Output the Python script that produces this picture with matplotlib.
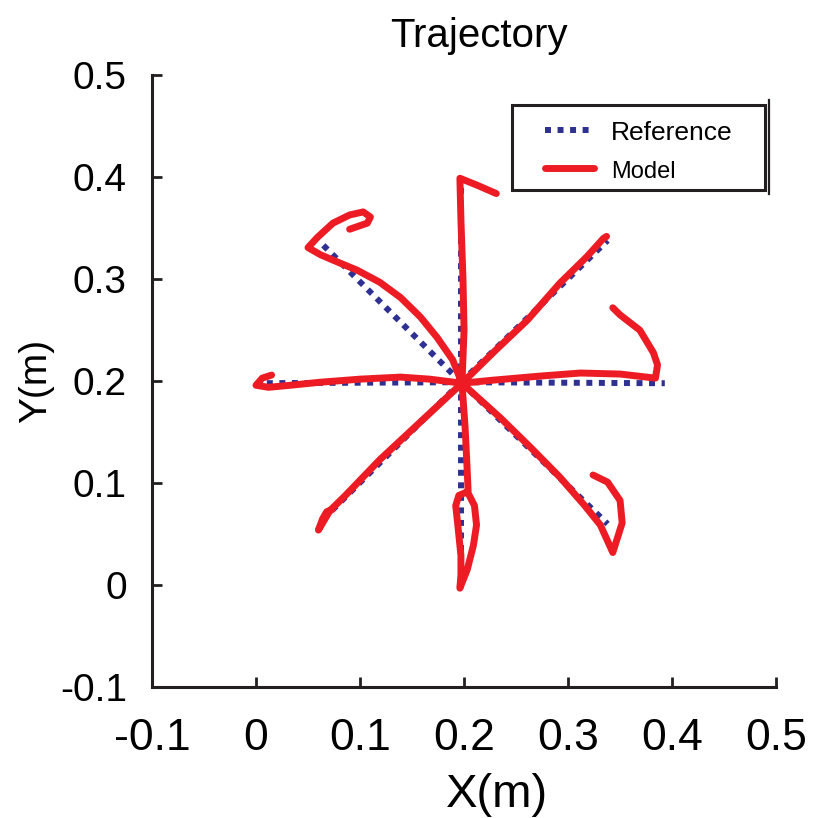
import matplotlib
matplotlib.use("Agg")
import matplotlib.pyplot as plt
from matplotlib.patches import Rectangle

plt.rcParams['font.family'] = ['Liberation Sans', 'DejaVu Sans']

RED = '#ED1C24'
NAVY = '#2E3192'
INK = '#231F20'

# reference: straight segments from the centre to 8 targets
ref_center = (0.197, 0.199)
ref_end_x = [0.197, 0.338, 0.393, 0.338, 0.197, 0.061, 0.002, 0.060]
ref_end_y = [0.399, 0.338, 0.198, 0.060, 0.000, 0.061, 0.198, 0.338]

# model trajectories, one list per arm
up_x = [0.198, 0.200, 0.199, 0.197, 0.196, 0.213, 0.231]
up_y = [0.198, 0.250, 0.299, 0.358, 0.399, 0.392, 0.384]

ur_x = [0.198, 0.230, 0.261, 0.292, 0.318, 0.334, 0.337]
ur_y = [0.198, 0.230, 0.260, 0.296, 0.322, 0.340, 0.342]

r_x = [0.198, 0.228, 0.273, 0.312, 0.350, 0.384, 0.386, 0.382, 0.369, 0.350, 0.343]
r_y = [0.198, 0.201, 0.205, 0.208, 0.207, 0.203, 0.216, 0.228, 0.250, 0.265, 0.272]

lr_x = [0.198, 0.235, 0.264, 0.292, 0.316, 0.331, 0.343, 0.352, 0.350, 0.338, 0.324]
lr_y = [0.198, 0.164, 0.135, 0.106, 0.078, 0.059, 0.032, 0.061, 0.083, 0.101, 0.108]

d_x = [0.198, 0.201, 0.203, 0.204, 0.210, 0.212, 0.209, 0.203, 0.196, 0.197, 0.197,
       0.194, 0.192, 0.195, 0.202]
d_y = [0.198, 0.155, 0.113, 0.090, 0.078, 0.059, 0.039, 0.015, -0.003, 0.010, 0.029,
       0.059, 0.078, 0.088, 0.091]

ll_x = [0.198, 0.158, 0.119, 0.086, 0.071, 0.060, 0.064, 0.068, 0.073]
ll_y = [0.198, 0.160, 0.123, 0.088, 0.073, 0.054, 0.065, 0.072, 0.074]

l_x = [0.198, 0.167, 0.139, 0.100, 0.062, 0.033, 0.012, 0.000, 0.006, 0.015]
l_y = [0.198, 0.202, 0.204, 0.202, 0.199, 0.196, 0.194, 0.196, 0.203, 0.206]

ul_x = [0.198, 0.189, 0.174, 0.158, 0.139, 0.119, 0.097, 0.078, 0.062, 0.050,
        0.059, 0.074, 0.090, 0.103, 0.110, 0.107, 0.090]
ul_y = [0.198, 0.221, 0.243, 0.263, 0.282, 0.297, 0.309, 0.317, 0.324, 0.331,
        0.341, 0.355, 0.363, 0.366, 0.361, 0.355, 0.349]

arms_x = [up_x, ur_x, r_x, lr_x, d_x, ll_x, l_x, ul_x]
arms_y = [up_y, ur_y, r_y, lr_y, d_y, ll_y, l_y, ul_y]

xticks = [-0.1, 0, 0.1, 0.2, 0.3, 0.4, 0.5]
yticks = [-0.1, 0, 0.1, 0.2, 0.3, 0.4, 0.5]
xtick_labels = ['-0.1', '0', '0.1', '0.2', '0.3', '0.4', '0.5']
ytick_labels = ['-0.1', '0', '0.1', '0.2', '0.3', '0.4', '0.5']

fig = plt.figure(figsize=(8.18, 8.18), dpi=100)
ax = fig.add_axes([0.1858, 0.160, 0.763, 0.748])

for i in range(len(ref_end_x)):
    ax.plot([ref_center[0], ref_end_x[i]], [ref_center[1], ref_end_y[i]],
            color=NAVY, lw=4.3, ls=(0, (1, 1.1)), dash_capstyle='butt',
            label='Reference' if i == 0 else None, zorder=2)
for i in range(len(arms_x)):
    ax.plot(arms_x[i], arms_y[i], color=RED, lw=5.0, solid_capstyle='round',
            solid_joinstyle='round', label='Model' if i == 0 else None, zorder=3)

ax.set_xlim(-0.1, 0.5)
ax.set_ylim(-0.1, 0.5)
ax.set_xticks(xticks)
ax.set_xticklabels(xtick_labels, fontsize=32)
ax.set_yticks(yticks)
ax.set_yticklabels(ytick_labels, fontsize=28)
ax.tick_params(axis='both', direction='in', length=7, width=2, color=INK)
ax.tick_params(axis='x', pad=22)
ax.tick_params(axis='y', pad=18)

for s in ['top', 'right']:
    ax.spines[s].set_visible(False)
for s in ['left', 'bottom']:
    ax.spines[s].set_linewidth(2.2)
    ax.spines[s].set_color(INK)

ax.set_title('Trajectory', fontsize=29, pad=20, x=0.523)
ax.set_xlabel('X(m)', fontsize=34)
ax.xaxis.set_label_coords(0.553, -0.14)
ax.set_ylabel('Y(m)', fontsize=28, labelpad=4)

# legend frame drawn separately so the inner spacing matches
ax.add_patch(Rectangle((0.577, 0.812), 0.405, 0.139, transform=ax.transAxes,
                       fill=False, ec=INK, lw=2.2, clip_on=False, zorder=5))
ax.plot([0.988, 0.988], [0.806, 0.960], transform=ax.transAxes, color=INK,
        lw=1.6, clip_on=False, zorder=5)
leg = ax.legend(loc='upper left', bbox_to_anchor=(0.630, 0.926), borderaxespad=0,
                borderpad=0, fontsize=19, frameon=False,
                handlelength=1.85, handletextpad=0.65, labelspacing=0.55)
leg.get_texts()[1].set_fontsize(17)

plt.savefig("out.png", dpi=100)
